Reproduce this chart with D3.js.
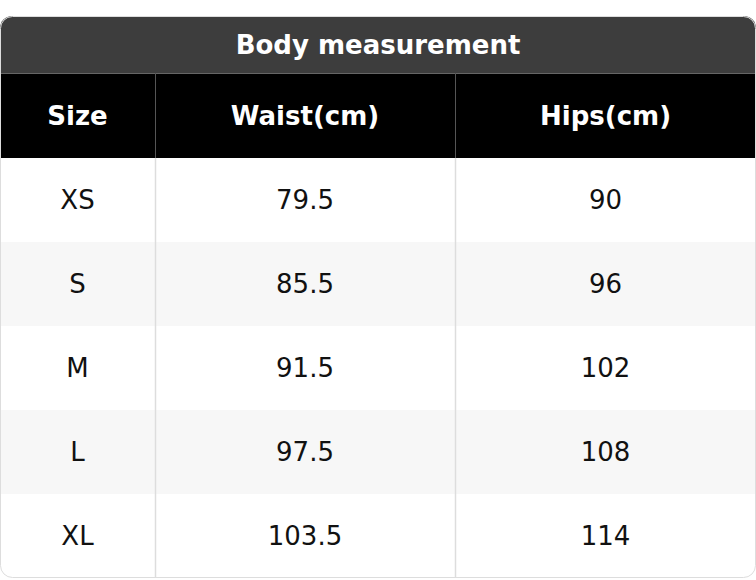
<!DOCTYPE html>
<html><head><meta charset="utf-8">
<script src="https://cdn.jsdelivr.net/npm/d3@7"></script>
<style>body{margin:0;background:#fff}</style></head>
<body><svg id="c" width="756" height="580"></svg>
<script>
const title = "Body measurement";
const headers = ["Size", "Waist(cm)", "Hips(cm)"];
const sizes = ["XS", "S", "M", "L", "XL"];
const waist = ["79.5", "85.5", "91.5", "97.5", "103.5"];
const hips = ["90", "96", "102", "108", "114"];

(function(){
const svg = d3.select("#c");
const font = "DejaVu Sans, sans-serif";
const W = 756, T0 = 16, titleH = 57, headH = 85, rowH = 84;
const colEdges = [0, 155, 455, 756];
const x = d3.scaleOrdinal().domain([0,1,2]).range([0,1,2].map(i=>colEdges[i]));
const cw = i => colEdges[i+1]-colEdges[i];
const bodyTop = T0 + titleH + headH;
const y = d3.scaleBand().domain(d3.range(sizes.length)).range([bodyTop, bodyTop + rowH*sizes.length]);

svg.append("clipPath").attr("id","clip").append("rect")
  .attr("x",0).attr("y",T0).attr("width",W).attr("height",y.range()[1]-T0).attr("rx",12);
const g = svg.append("g").attr("clip-path","url(#clip)");
g.append("rect").attr("x",0).attr("y",T0).attr("width",W).attr("height",titleH).attr("fill","#3d3d3d");
g.append("rect").attr("x",0).attr("y",T0+titleH).attr("width",W).attr("height",headH).attr("fill","#000");
g.append("line").attr("x1",0).attr("x2",W).attr("y1",T0+titleH+0.5).attr("y2",T0+titleH+0.5).attr("stroke","#666");
const rows = sizes.map((s,i)=>[s, waist[i], hips[i]]);
g.selectAll(".rb").data(rows).join("rect")
  .attr("x",0).attr("y",(d,i)=>y(i)).attr("width",W).attr("height",rowH)
  .attr("fill",(d,i)=>i%2?"#f7f7f7":"#fff");
[1,2].forEach(i=>{
  g.append("line").attr("x1",colEdges[i]+0.5).attr("x2",colEdges[i]+0.5)
   .attr("y1",T0+titleH).attr("y2",T0+titleH+headH).attr("stroke","#555");
  g.append("line").attr("x1",colEdges[i]+0.5).attr("x2",colEdges[i]+0.5)
   .attr("y1",bodyTop).attr("y2",y.range()[1]).attr("stroke","#ddd").attr("stroke-width",1.5);
});
svg.append("rect").attr("x",0.5).attr("y",T0+0.5).attr("width",W-1).attr("height",y.range()[1]-T0-1)
  .attr("rx",12).attr("fill","none").attr("stroke","#ddd");

svg.append("text").attr("x",W/2).attr("y",T0+titleH/2).attr("dy","0.35em").attr("text-anchor","middle")
  .attr("font-family",font).attr("font-weight","bold").attr("font-size",26).attr("fill","#fff").text(title);
svg.selectAll(".h").data(headers).join("text")
  .attr("x",(d,i)=>x(i)+cw(i)/2).attr("y",T0+titleH+headH/2).attr("dy","0.35em").attr("text-anchor","middle")
  .attr("font-family",font).attr("font-weight","bold").attr("font-size",26).attr("fill","#fff").text(d=>d);
rows.forEach((r,ri)=>{
  svg.selectAll(".c"+ri).data(r).join("text")
    .attr("x",(d,i)=>x(i)+cw(i)/2).attr("y",y(ri)+rowH/2).attr("dy","0.35em").attr("text-anchor","middle")
    .attr("font-family",font).attr("font-size",26).attr("fill","#111").text(d=>d);
});
})();
</script></body></html>
